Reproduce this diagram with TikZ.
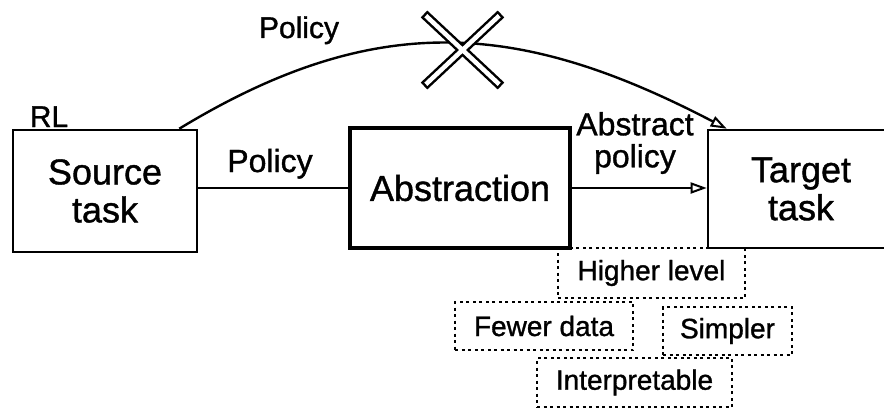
\documentclass[tikz,border=0pt]{standalone}
\usepackage{fontspec}
\setmainfont{Liberation Sans}[BoldFont=Liberation Sans,BoldFeatures={FakeBold=1.1}]
\usetikzlibrary{arrows.meta,calc}

\begin{document}
\begin{tikzpicture}[x=1pt,y=-1pt,
  taskbox/.style={draw,line width=2.6pt,align=center,inner sep=0pt,
    font=\fontsize{36pt}{38pt}\selectfont\bfseries},
  edgelabel/.style={inner sep=0pt,font=\fontsize{32pt}{32pt}\selectfont\bfseries},
  propbox/.style={draw,line width=2.3pt,dash pattern=on 3pt off 3.5pt,
    inner sep=0pt,font=\fontsize{28pt}{30pt}\selectfont\bfseries},
  link/.style={line width=2.4pt},
  openhead/.style={-{Triangle[open,length=16pt,width=11pt,line width=2pt]}},
  xbar/.style={line width=9.5pt,line cap=butt},
  xcore/.style={white,line width=4.5pt,line cap=butt,shorten <=2.5pt,shorten >=2.5pt}]
  \useasboundingbox (0,0) rectangle (884,412);

  % tasks and the abstraction step
  \node[taskbox,minimum width=184pt,minimum height=122pt] (source) at (105,191) {Source\\task};
  \node[taskbox,minimum width=220pt,minimum height=120pt,line width=4.5pt] (abstraction) at (460,188) {Abstraction};
  \node[taskbox,minimum width=186pt,minimum height=118pt] (target) at (801,189) {Target\\task};

  % labels
  \node[edgelabel,anchor=base,font=\fontsize{30pt}{30pt}\selectfont\bfseries] (rl) at (49,127) {RL};
  \node[edgelabel,anchor=base,font=\fontsize{30pt}{30pt}\selectfont\bfseries] (toppolicy) at (299,38) {Policy};
  \node[edgelabel,anchor=base] (policy) at (270,172) {Policy};
  \node[edgelabel,align=center] (abspolicy) at (635,143) {Abstract\\policy};

  % properties of the abstract policy
  \node[propbox,minimum width=187pt,minimum height=50pt] (higher) at (651.5,273) {Higher level};
  \node[propbox,minimum width=178pt,minimum height=48pt] (fewer) at (544,326) {Fewer data};
  \node[propbox,minimum width=129pt,minimum height=48pt] (simpler) at (727.5,331) {Simpler};
  \node[propbox,minimum width=195pt,minimum height=49pt] (interp) at (634.5,382.5) {Interpretable};

  % connectors
  \draw[link] (abstraction.west -| source.east) -- (abstraction.west);
  \draw[link,openhead] (abstraction.east) -- (abstraction.east -| target.west);

  % direct policy transfer, crossed out
  \coordinate (curvestart) at ($(source.north east)+(-19,0)$);
  \coordinate (curveend) at ($(target.north west)+(20,0)$);
  \draw[link,openhead] (curvestart) .. controls (378,8) and (522,22) .. (curveend);

  \coordinate (veto) at (462,50);
  \draw[xbar] ([shift={(-38,-36)}]veto) -- ([shift={(39,36)}]veto)
              ([shift={(39,-36)}]veto) -- ([shift={(-38,36)}]veto);
  \draw[xcore] ([shift={(-38,-36)}]veto) -- ([shift={(39,36)}]veto);
  \draw[xcore] ([shift={(39,-36)}]veto) -- ([shift={(-38,36)}]veto);
\end{tikzpicture}
\end{document}
